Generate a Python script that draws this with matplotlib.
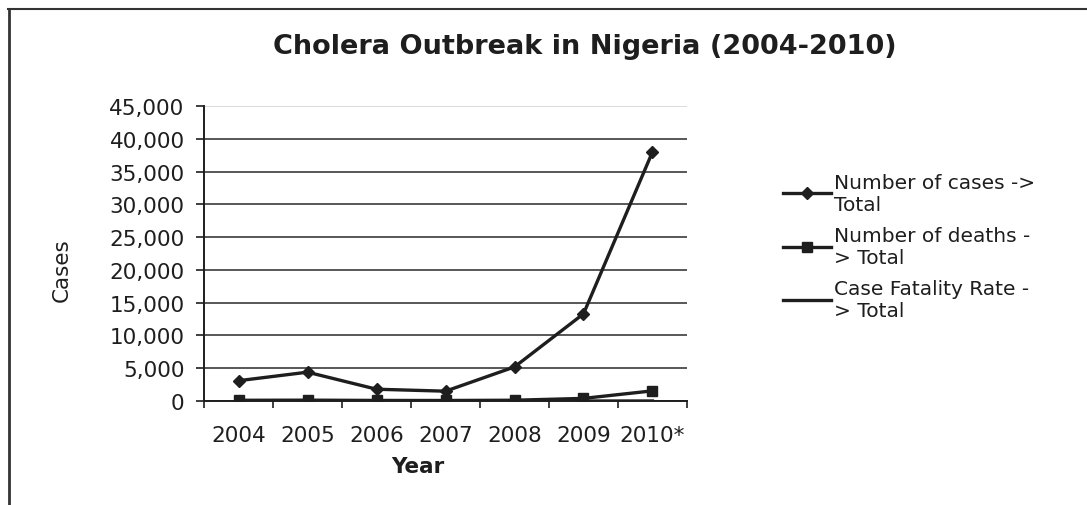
import matplotlib
matplotlib.use("Agg")
import matplotlib.pyplot as plt
from matplotlib.lines import Line2D
from matplotlib.ticker import FuncFormatter, FixedLocator

plt.rcParams['font.family'] = ['DejaVu Sans']

years = ['2004', '2005', '2006', '2007', '2008', '2009', '2010*']
cases = [3100, 4400, 1800, 1500, 5200, 13300, 38000]
deaths = [110, 130, 90, 80, 120, 400, 1550]
cfr = [3.5, 3.0, 4.0, 5.0, 2.5, 3.0, 4.1]

ink = '#1e1e1e'

fig = plt.figure(figsize=(10.87, 5.06), dpi=100)
ax = fig.add_axes([0.1877, 0.2055, 0.4443, 0.583])

x = list(range(len(years)))
ax.plot(x, cases, color=ink, lw=2.4, marker='D', ms=6,
        label='Number of cases ->\nTotal')
ax.plot(x, deaths, color=ink, lw=2.4, marker='s', ms=7.5,
        label='Number of deaths -\n> Total')
ax.plot(x, cfr, color=ink, lw=2.4, label='Case Fatality Rate -\n> Total')

ax.set_xlim(-0.5, len(years) - 0.5)
ax.set_ylim(0, 45000)
ax.set_yticks(range(0, 45001, 5000))
ax.yaxis.set_major_formatter(FuncFormatter(lambda v, p: f'{int(v):,}'))
ax.set_xticks(x)
ax.set_xticklabels(years)
ax.xaxis.set_minor_locator(FixedLocator([i - 0.5 for i in range(len(years) + 1)]))
ax.tick_params(axis='x', which='major', length=0, pad=17, labelsize=15.5, colors=ink)
ax.tick_params(axis='x', which='minor', length=5, width=1.2, direction='out', color=ink)
ax.tick_params(axis='y', length=6, width=1.2, direction='out', labelsize=15.5,
               colors=ink, pad=8)

ax.yaxis.grid(True, color='#2a2a2a', lw=1.1)
gl = ax.get_ygridlines()
gl[-1].set_color('#d0d0d0')
ax.set_axisbelow(True)

for s in ['top', 'right']:
    ax.spines[s].set_visible(False)
for s in ['left', 'bottom']:
    ax.spines[s].set_color(ink)
    ax.spines[s].set_linewidth(1.4)

fig.text(0.538, 0.907, 'Cholera Outbreak in Nigeria (2004-2010)', ha='center',
         va='center', fontsize=19.5, fontweight='bold', color=ink)
fig.text(0.057, 0.466, 'Cases', rotation=90, ha='center', va='center',
         fontsize=15.5, color=ink)
fig.text(0.384, 0.077, 'Year', ha='center', va='center', fontsize=15.5,
         fontweight='bold', color=ink)

fig.legend(loc='upper left', bbox_to_anchor=(0.711, 0.677), frameon=False,
           fontsize=14.5, handlelength=2.4, handletextpad=0.12, labelspacing=0.6,
           borderpad=0, labelcolor=ink)

# scanned frame edges
fig.add_artist(Line2D([0.007, 1.0], [0.981, 0.981], color='#333', lw=1.5))
fig.add_artist(Line2D([0.008, 0.008], [0.0, 0.981], color='#333', lw=2.0))

fig.savefig('out.png', dpi=100)
